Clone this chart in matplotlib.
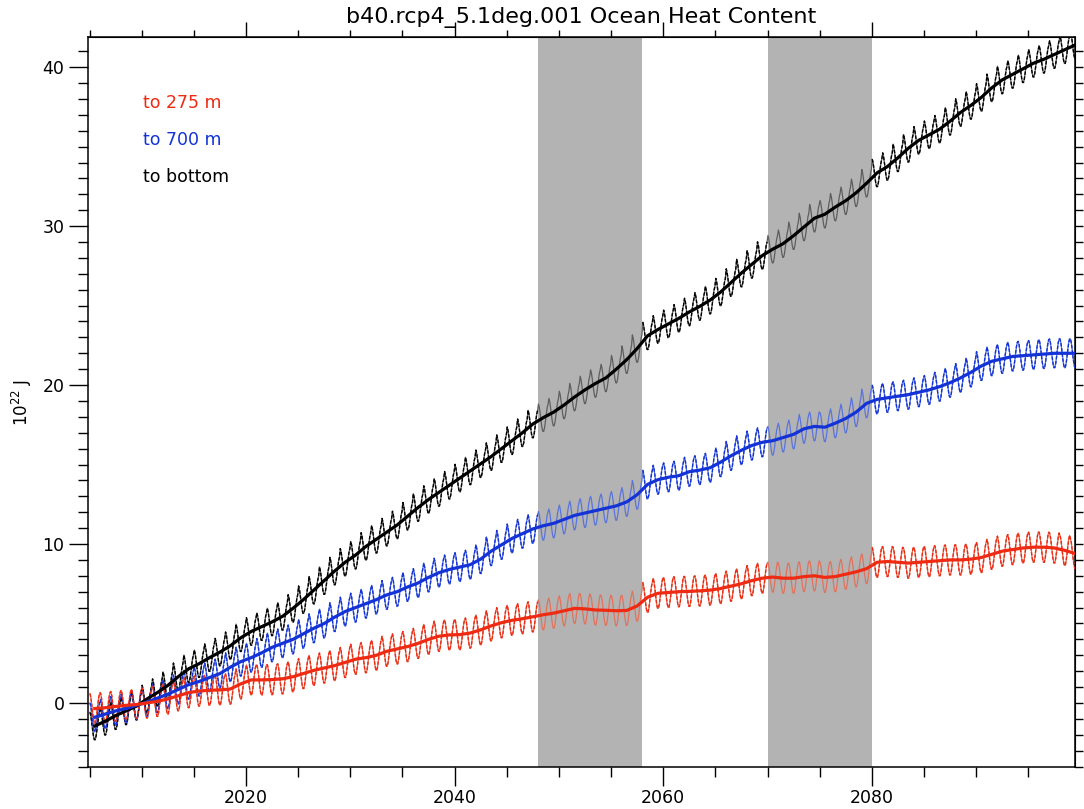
import numpy as np
import matplotlib.pyplot as plt
from matplotlib.ticker import MultipleLocator, NullFormatter

# ------------------------------
# Data: annual mean heat content anomaly (10^22 J), 2005-2099
# ------------------------------
years = np.arange(2005, 2100)

ohc_275 = [
    -0.35, -0.30, -0.22, -0.15, -0.10, 0.00, 0.10, 0.25, 0.45, 0.65,   # 2005-2014
    0.75, 0.80, 0.82, 0.88, 1.20, 1.45, 1.45, 1.47, 1.52, 1.65,         # 2015-2024
    1.85, 2.05, 2.20, 2.35, 2.55, 2.75, 2.85, 3.00, 3.25, 3.40,         # 2025-2034
    3.55, 3.75, 4.00, 4.20, 4.28, 4.30, 4.40, 4.60, 4.85, 5.05,         # 2035-2044
    5.20, 5.30, 5.42, 5.55, 5.65, 5.80, 5.95, 5.92, 5.85, 5.83,         # 2045-2054
    5.80, 5.82, 6.10, 6.65, 6.90, 6.95, 7.00, 7.02, 7.05, 7.10,         # 2055-2064
    7.20, 7.35, 7.50, 7.70, 7.85, 7.92, 7.85, 7.85, 7.95, 8.00,         # 2065-2074
    7.90, 7.95, 8.10, 8.25, 8.45, 8.85, 8.90, 8.85, 8.80, 8.85,         # 2075-2084
    8.90, 8.95, 9.00, 9.00, 9.05, 9.15, 9.35, 9.55, 9.65, 9.75,         # 2085-2094
    9.80, 9.80, 9.75, 9.60, 9.40,                                       # 2095-2099
]

ohc_700 = [
    -0.90, -0.70, -0.50, -0.35, -0.15, 0.05, 0.30, 0.55, 0.85, 1.15,
    1.35, 1.60, 1.85, 2.25, 2.60, 2.85, 3.15, 3.50, 3.75, 4.00,
    4.35, 4.70, 5.00, 5.40, 5.75, 6.00, 6.25, 6.50, 6.80, 7.00,
    7.30, 7.55, 7.90, 8.20, 8.40, 8.55, 8.70, 9.05, 9.55, 9.95,
    10.35, 10.65, 10.95, 11.15, 11.30, 11.55, 11.80, 11.95, 12.10, 12.25,
    12.40, 12.65, 13.10, 13.75, 14.05, 14.20, 14.30, 14.55, 14.65, 14.80,
    15.15, 15.55, 15.90, 16.20, 16.40, 16.50, 16.70, 16.90, 17.25, 17.40,
    17.35, 17.60, 17.90, 18.30, 18.85, 19.10, 19.20, 19.30, 19.40, 19.55,
    19.70, 19.90, 20.15, 20.45, 20.80, 21.20, 21.50, 21.65, 21.80, 21.85,
    21.90, 21.95, 22.00, 22.00, 22.00,
]

ohc_bottom = [
    -1.45, -1.15, -0.80, -0.50, -0.20, 0.25, 0.65, 1.10, 1.65, 2.15,
    2.47, 2.85, 3.20, 3.60, 4.10, 4.50, 4.80, 5.10, 5.45, 5.95,
    6.50, 7.10, 7.70, 8.30, 8.85, 9.30, 9.85, 10.30, 10.75, 11.20,
    11.75, 12.30, 12.80, 13.25, 13.70, 14.15, 14.60, 15.05, 15.50, 16.00,
    16.50, 17.00, 17.55, 17.95, 18.30, 18.75, 19.25, 19.70, 20.10, 20.45,
    21.00, 21.60, 22.30, 23.10, 23.50, 23.85, 24.20, 24.60, 24.95, 25.35,
    25.85, 26.45, 27.05, 27.60, 28.15, 28.55, 28.90, 29.40, 29.95, 30.50,
    30.75, 31.20, 31.60, 32.10, 32.70, 33.35, 33.75, 34.30, 34.90, 35.40,
    35.75, 36.10, 36.60, 37.15, 37.60, 38.10, 38.70, 39.20, 39.55, 39.90,
    40.25, 40.50, 40.80, 41.10, 41.40,
]

# mean seasonal cycle (Jan..Dec) and its size for each depth
seasonal = [0.82, 0.60, 0.22, -0.22, -0.60, -0.82, -0.82, -0.60, -0.22, 0.22, 0.60, 0.82]
cycle_amp = {"275": 1.15, "700": 1.10, "bottom": 1.05}

shade_periods = [(2048, 2058), (2070, 2080)]

labels = ["to 275 m", "to 700 m", "to bottom"]


def monthly(annual, amp):
    # annual mean plus the seasonal anomaly for each month
    vals = np.repeat(np.asarray(annual), 12) + amp * np.tile(seasonal, len(annual))
    t = np.repeat(years, 12) + (np.tile(np.arange(12), len(annual)) + 0.5) / 12.0
    return t, vals


fig = plt.figure(figsize=(10.84, 8.09), dpi=100)
ax = fig.add_axes([88 / 1084, 42 / 809, (1075 - 88) / 1084, (767 - 37) / 809])

for a, b in shade_periods:
    ax.axvspan(a, b, color="#b3b3b3", lw=0, zorder=0)

series = [
    (ohc_bottom, cycle_amp["bottom"], "black", "#5e5e5e"),
    (ohc_700, cycle_amp["700"], "#1433d6", "#5a74dc"),
    (ohc_275, cycle_amp["275"], "#ee2a12", "#e2725c"),
]

for annual, amp, dark, light in series:
    t, v = monthly(annual, amp)
    ax.plot(t, v, color=light, lw=0.9, zorder=2)
    # dashed overlay only outside the shaded periods
    outside = np.ones_like(t, dtype=bool)
    for a, b in shade_periods:
        outside &= ~((t > a) & (t < b))
    ax.plot(t, np.where(outside, v, np.nan), color=dark, lw=1.0,
            dashes=(2.5, 1.2), zorder=3)
    ax.plot(years + 0.5, annual, color=dark, lw=2.3, zorder=4)

ax.set_xlim(2004.85, 2099.48)
ax.set_ylim(-4.03, 41.9)

ax.xaxis.set_major_locator(MultipleLocator(20))
ax.xaxis.set_minor_locator(MultipleLocator(5))
ax.yaxis.set_major_locator(MultipleLocator(10))
ax.yaxis.set_minor_locator(MultipleLocator(1))
ax.tick_params(which="both", direction="out", width=1.0, labelsize=12.5, color="black")
ax.tick_params(which="major", length=14)
ax.tick_params(which="minor", length=7)
ax.tick_params(axis="y", pad=3)
ax.tick_params(axis="x", pad=2)

# ticks on the top and right frame, no labels
top = ax.secondary_xaxis("top")
top.xaxis.set_major_locator(MultipleLocator(20))
top.xaxis.set_minor_locator(MultipleLocator(5))
top.xaxis.set_major_formatter(NullFormatter())
top.tick_params(which="major", direction="out", length=11, width=1.0)
top.tick_params(which="minor", direction="out", length=5, width=1.0)

right = ax.secondary_yaxis("right")
right.yaxis.set_major_locator(MultipleLocator(10))
right.yaxis.set_minor_locator(MultipleLocator(1))
right.yaxis.set_major_formatter(NullFormatter())
right.tick_params(which="both", direction="out", length=6, width=1.0)

for sp in ax.spines.values():
    sp.set_linewidth(1.1)

ax.set_ylabel("10$^{22}$ J", fontsize=12, labelpad=6)

fig.text(581 / 1084, 1 - 18 / 809, "b40.rcp4_5.1deg.001 Ocean Heat Content",
         ha="center", va="center", fontsize=16)

for i, (lab, col) in enumerate(zip(labels, ["#ee2a12", "#1433d6", "black"])):
    fig.text(143 / 1084, 1 - (103 + 37 * i) / 809, lab, color=col,
             ha="left", va="center", fontsize=12.5)

fig.savefig("out.png", dpi=100)
